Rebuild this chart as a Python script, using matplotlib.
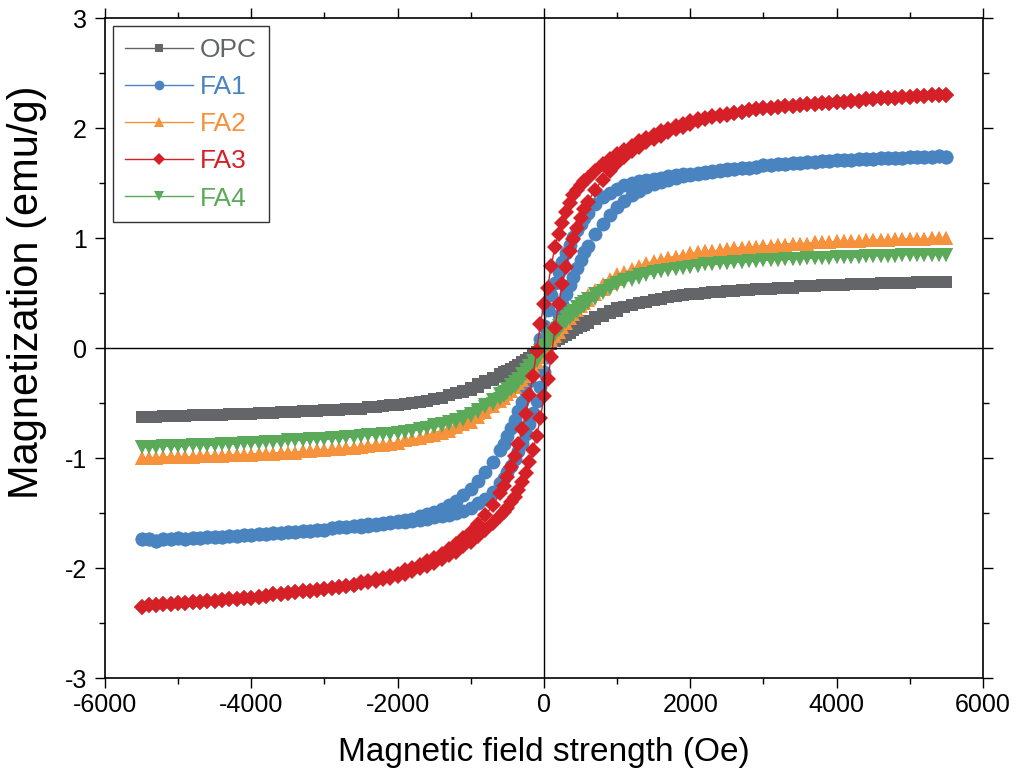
import matplotlib.pyplot as plt
from matplotlib.ticker import MultipleLocator

plt.rcParams['axes.unicode_minus'] = False
plt.rcParams['font.family'] = ['Liberation Sans', 'DejaVu Sans']

# field sweep (Oe): outer tails, central part (finer steps near zero), outer tails
field_neg = [-5500, -5400, -5300, -5200, -5100, -5000, -4900, -4800, -4700, -4600,
             -4500, -4400, -4300, -4200, -4100, -4000, -3900, -3800, -3700, -3600,
             -3500, -3400, -3300, -3200, -3100, -3000, -2900, -2800, -2700, -2600]
field_mid = [-2500, -2400, -2300, -2200, -2100, -2000, -1900, -1800, -1700, -1600,
             -1500, -1400, -1300, -1200, -1100, -1000, -900, -800, -700,
             -600, -550, -500, -450, -400, -350, -300, -250, -200, -150, -100, -50,
             0, 50, 100, 150, 200, 250, 300, 350, 400, 450, 500, 550, 600,
             700, 800, 900, 1000, 1100, 1200, 1300, 1400, 1500, 1600,
             1700, 1800, 1900, 2000, 2100, 2200, 2300, 2400, 2500]
field_pos = [2600, 2700, 2800, 2900, 3000, 3100, 3200, 3300, 3400, 3500,
             3600, 3700, 3800, 3900, 4000, 4100, 4200, 4300, 4400, 4500,
             4600, 4700, 4800, 4900, 5000, 5100, 5200, 5300, 5400, 5500]

# magnetization (emu/g); *_down = branch swept from +H, *_up = branch swept from -H
opc_neg = [-0.63, -0.63, -0.63, -0.62, -0.62, -0.62, -0.62, -0.61, -0.61, -0.61,
           -0.61, -0.61, -0.60, -0.60, -0.60, -0.60, -0.59, -0.59, -0.59, -0.58,
           -0.58, -0.58, -0.57, -0.57, -0.57, -0.56, -0.56, -0.56, -0.55, -0.55]
opc_down = [-0.55, -0.54, -0.54, -0.53, -0.52, -0.52, -0.51, -0.50, -0.49, -0.48,
            -0.46, -0.45, -0.43, -0.41, -0.39, -0.36, -0.33, -0.30, -0.27,
            -0.24, -0.22, -0.21, -0.19, -0.17, -0.15, -0.13, -0.11, -0.09, -0.06, -0.04, -0.01,
            0.01, 0.03, 0.06, 0.08, 0.10, 0.12, 0.14, 0.16, 0.18, 0.20, 0.22, 0.23, 0.25,
            0.28, 0.31, 0.34, 0.36, 0.37, 0.39, 0.41, 0.42, 0.44, 0.45,
            0.46, 0.47, 0.48, 0.49, 0.49, 0.50, 0.51, 0.51, 0.52]
opc_up = [-0.55, -0.54, -0.54, -0.53, -0.52, -0.52, -0.51, -0.50, -0.49, -0.48,
          -0.46, -0.45, -0.43, -0.41, -0.40, -0.38, -0.35, -0.32, -0.29,
          -0.26, -0.24, -0.23, -0.21, -0.19, -0.17, -0.15, -0.13, -0.11, -0.08, -0.06, -0.03,
          -0.01, 0.01, 0.04, 0.06, 0.08, 0.10, 0.12, 0.14, 0.16, 0.18, 0.20, 0.21, 0.23,
          0.26, 0.29, 0.32, 0.34, 0.37, 0.39, 0.41, 0.42, 0.44, 0.45,
          0.46, 0.47, 0.48, 0.49, 0.49, 0.50, 0.51, 0.51, 0.52]
opc_pos = [0.52, 0.53, 0.53, 0.54, 0.54, 0.54, 0.55, 0.55, 0.55, 0.56,
           0.56, 0.56, 0.57, 0.57, 0.57, 0.57, 0.58, 0.58, 0.58, 0.58,
           0.59, 0.59, 0.59, 0.59, 0.59, 0.60, 0.60, 0.60, 0.60, 0.60]

fa1_neg = [-1.74, -1.74, -1.75, -1.74, -1.74, -1.73, -1.74, -1.73, -1.73, -1.72,
           -1.72, -1.72, -1.71, -1.71, -1.70, -1.70, -1.69, -1.69, -1.68, -1.68,
           -1.67, -1.67, -1.66, -1.66, -1.65, -1.65, -1.64, -1.63, -1.63, -1.62]
fa1_down = [-1.61, -1.60, -1.60, -1.59, -1.58, -1.57, -1.56, -1.55, -1.53, -1.51,
            -1.49, -1.46, -1.43, -1.39, -1.34, -1.28, -1.21, -1.13, -1.04,
            -0.93, -0.87, -0.80, -0.73, -0.65, -0.57, -0.49, -0.40, -0.30, -0.19, -0.06, 0.08,
            0.20, 0.35, 0.48, 0.59, 0.69, 0.78, 0.86, 0.94, 1.01, 1.07, 1.13, 1.18, 1.23,
            1.31, 1.37, 1.41, 1.45, 1.48, 1.50, 1.52, 1.53, 1.54, 1.55,
            1.56, 1.57, 1.58, 1.58, 1.59, 1.60, 1.61, 1.62, 1.63]
fa1_up = [-1.63, -1.62, -1.61, -1.60, -1.59, -1.58, -1.58, -1.57, -1.56, -1.55,
          -1.54, -1.53, -1.52, -1.50, -1.48, -1.45, -1.41, -1.37, -1.31,
          -1.23, -1.18, -1.13, -1.07, -1.01, -0.94, -0.86, -0.78, -0.69, -0.59, -0.48, -0.35,
          -0.22, -0.08, 0.06, 0.19, 0.30, 0.40, 0.49, 0.57, 0.65, 0.73, 0.80, 0.87, 0.93,
          1.04, 1.13, 1.21, 1.28, 1.34, 1.39, 1.43, 1.46, 1.49, 1.51,
          1.53, 1.55, 1.56, 1.57, 1.58, 1.59, 1.60, 1.61, 1.62]
fa1_pos = [1.63, 1.64, 1.64, 1.65, 1.66, 1.66, 1.67, 1.67, 1.68, 1.68,
           1.69, 1.69, 1.70, 1.70, 1.71, 1.71, 1.71, 1.72, 1.72, 1.72,
           1.73, 1.73, 1.73, 1.73, 1.74, 1.74, 1.74, 1.74, 1.75, 1.74]

fa2_neg = [-1.00, -1.00, -1.00, -0.99, -0.99, -0.99, -0.99, -0.99, -0.98, -0.98,
           -0.98, -0.98, -0.97, -0.97, -0.97, -0.97, -0.96, -0.96, -0.96, -0.95,
           -0.95, -0.95, -0.94, -0.94, -0.93, -0.93, -0.92, -0.92, -0.91, -0.91]
fa2_down = [-0.90, -0.89, -0.88, -0.88, -0.87, -0.86, -0.84, -0.83, -0.82, -0.80,
            -0.77, -0.75, -0.73, -0.70, -0.67, -0.63, -0.59, -0.54, -0.49,
            -0.44, -0.41, -0.38, -0.35, -0.31, -0.27, -0.23, -0.19, -0.15, -0.11, -0.07, -0.02,
            0.03, 0.08, 0.13, 0.17, 0.21, 0.25, 0.29, 0.32, 0.35, 0.39, 0.42, 0.45, 0.48,
            0.53, 0.58, 0.63, 0.67, 0.69, 0.72, 0.75, 0.77, 0.79, 0.80,
            0.82, 0.83, 0.84, 0.86, 0.87, 0.88, 0.88, 0.89, 0.90]
fa2_up = [-0.90, -0.89, -0.88, -0.88, -0.87, -0.86, -0.84, -0.83, -0.82, -0.80,
          -0.79, -0.77, -0.75, -0.72, -0.69, -0.67, -0.63, -0.58, -0.53,
          -0.48, -0.45, -0.42, -0.39, -0.35, -0.32, -0.29, -0.25, -0.21, -0.17, -0.13, -0.08,
          -0.03, 0.02, 0.07, 0.11, 0.15, 0.19, 0.23, 0.27, 0.31, 0.35, 0.38, 0.41, 0.44,
          0.49, 0.54, 0.59, 0.63, 0.67, 0.70, 0.73, 0.75, 0.77, 0.80,
          0.82, 0.83, 0.84, 0.86, 0.87, 0.88, 0.88, 0.89, 0.90]
fa2_pos = [0.91, 0.91, 0.92, 0.92, 0.93, 0.93, 0.94, 0.94, 0.95, 0.95,
           0.95, 0.96, 0.96, 0.96, 0.97, 0.97, 0.97, 0.97, 0.98, 0.98,
           0.98, 0.98, 0.99, 0.99, 0.99, 0.99, 0.99, 1.00, 1.00, 1.00]

fa3_neg = [-2.35, -2.34, -2.34, -2.33, -2.33, -2.32, -2.32, -2.31, -2.31, -2.30,
           -2.30, -2.29, -2.28, -2.28, -2.27, -2.27, -2.26, -2.25, -2.24, -2.24,
           -2.23, -2.22, -2.21, -2.21, -2.20, -2.19, -2.18, -2.17, -2.16, -2.15]
fa3_down = [-2.13, -2.12, -2.10, -2.09, -2.07, -2.05, -2.02, -2.00, -1.97, -1.94,
            -1.91, -1.87, -1.83, -1.78, -1.73, -1.67, -1.60, -1.52, -1.43,
            -1.32, -1.25, -1.17, -1.08, -0.98, -0.87, -0.74, -0.60, -0.43, -0.25, -0.03, 0.22,
            0.40, 0.55, 0.75, 0.92, 1.04, 1.14, 1.24, 1.32, 1.39, 1.44, 1.48, 1.52, 1.55,
            1.61, 1.67, 1.72, 1.76, 1.80, 1.84, 1.88, 1.91, 1.94, 1.97,
            1.99, 2.02, 2.04, 2.06, 2.08, 2.09, 2.11, 2.12, 2.13]
fa3_up = [-2.14, -2.13, -2.12, -2.10, -2.09, -2.07, -2.05, -2.03, -2.00, -1.98,
          -1.95, -1.92, -1.88, -1.85, -1.80, -1.76, -1.71, -1.65, -1.59,
          -1.53, -1.49, -1.45, -1.40, -1.35, -1.29, -1.22, -1.14, -1.04, -0.93, -0.80, -0.64,
          -0.44, -0.28, -0.08, 0.18, 0.40, 0.58, 0.74, 0.88, 0.99, 1.09, 1.18, 1.26, 1.33,
          1.44, 1.53, 1.61, 1.68, 1.74, 1.79, 1.83, 1.87, 1.90, 1.93,
          1.96, 1.99, 2.01, 2.04, 2.06, 2.08, 2.10, 2.11, 2.12]
fa3_pos = [2.14, 2.15, 2.16, 2.17, 2.18, 2.18, 2.19, 2.20, 2.20, 2.21,
           2.22, 2.22, 2.23, 2.23, 2.24, 2.24, 2.25, 2.25, 2.26, 2.26,
           2.27, 2.27, 2.27, 2.28, 2.28, 2.29, 2.29, 2.30, 2.30, 2.30]

fa4_neg = [-0.90, -0.90, -0.90, -0.89, -0.89, -0.89, -0.89, -0.88, -0.88, -0.88,
           -0.88, -0.87, -0.87, -0.87, -0.86, -0.86, -0.86, -0.85, -0.85, -0.85,
           -0.84, -0.84, -0.84, -0.83, -0.83, -0.83, -0.82, -0.82, -0.81, -0.81]
fa4_down = [-0.80, -0.79, -0.79, -0.78, -0.78, -0.77, -0.76, -0.75, -0.74, -0.73,
            -0.70, -0.69, -0.67, -0.65, -0.63, -0.60, -0.56, -0.52, -0.47,
            -0.42, -0.40, -0.37, -0.34, -0.31, -0.28, -0.24, -0.20, -0.16, -0.12, -0.08, -0.03,
            0.02, 0.07, 0.12, 0.16, 0.20, 0.24, 0.28, 0.31, 0.34, 0.37, 0.40, 0.42, 0.45,
            0.49, 0.52, 0.56, 0.59, 0.62, 0.64, 0.66, 0.67, 0.69, 0.70,
            0.71, 0.72, 0.73, 0.74, 0.75, 0.76, 0.76, 0.77, 0.77]
fa4_up = [-0.80, -0.79, -0.79, -0.78, -0.78, -0.77, -0.76, -0.75, -0.74, -0.73,
          -0.72, -0.71, -0.69, -0.67, -0.65, -0.62, -0.58, -0.54, -0.51,
          -0.46, -0.44, -0.41, -0.38, -0.35, -0.32, -0.28, -0.24, -0.20, -0.16, -0.12, -0.07,
          -0.02, 0.03, 0.08, 0.12, 0.16, 0.20, 0.24, 0.27, 0.30, 0.33, 0.36, 0.38, 0.41,
          0.45, 0.50, 0.54, 0.57, 0.60, 0.62, 0.64, 0.66, 0.68, 0.70,
          0.71, 0.72, 0.73, 0.74, 0.75, 0.76, 0.76, 0.77, 0.77]
fa4_pos = [0.78, 0.78, 0.79, 0.79, 0.80, 0.80, 0.80, 0.81, 0.81, 0.81,
           0.82, 0.82, 0.82, 0.82, 0.83, 0.83, 0.83, 0.83, 0.84, 0.84,
           0.84, 0.84, 0.84, 0.85, 0.85, 0.85, 0.85, 0.85, 0.85, 0.85]

names = ['OPC', 'FA1', 'FA2', 'FA3', 'FA4']
colors = ['#646569', '#4a84c0', '#f6913c', '#d62028', '#5aaa5a']
markers = ['s', 'o', '^', 'D', 'v']
sizes = [8, 10, 10, 8.5, 10]
zorders = [2, 3, 4, 6, 5]

series = [(opc_neg, opc_down, opc_up, opc_pos),
          (fa1_neg, fa1_down, fa1_up, fa1_pos),
          (fa2_neg, fa2_down, fa2_up, fa2_pos),
          (fa3_neg, fa3_down, fa3_up, fa3_pos),
          (fa4_neg, fa4_down, fa4_up, fa4_pos)]

field = field_neg + field_mid + field_pos

fig = plt.figure(figsize=(10.16, 7.71), dpi=100)
ax = fig.add_axes([0.1033, 0.1206, 0.8642, 0.856])

for i, (neg, down, up, pos) in enumerate(series):
    m_down = neg + down + pos
    m_up = neg + up + pos
    x = field[::-1] + field
    y = m_down[::-1] + m_up
    ax.plot(x, y, color=colors[i], marker=markers[i], markersize=sizes[i],
            markeredgewidth=0, linewidth=1, label=names[i], zorder=zorders[i])

ax.axhline(0, color='black', linewidth=1, zorder=10)
ax.axvline(0, color='black', linewidth=1, zorder=10)

ax.set_xlim(-6000, 6000)
ax.set_ylim(-3, 3)
ax.xaxis.set_major_locator(MultipleLocator(2000))
ax.xaxis.set_minor_locator(MultipleLocator(1000))
ax.yaxis.set_major_locator(MultipleLocator(1))
ax.yaxis.set_minor_locator(MultipleLocator(0.5))
ax.tick_params(which='both', direction='out', top=True, right=True, width=1)
ax.tick_params(which='major', length=7)
ax.tick_params(which='minor', length=4)
ax.tick_params(axis='x', pad=4, labelsize=18)
ax.tick_params(axis='y', pad=6, labelsize=18)
for s in ax.spines.values():
    s.set_linewidth(1.2)

ax.set_xlabel('Magnetic field strength (Oe)', fontsize=24, labelpad=14)
ax.set_ylabel('Magnetization (emu/g)', fontsize=30)
ax.yaxis.set_label_coords(-0.066, 0.585)

leg = ax.legend(loc='upper left', fontsize=19, frameon=True, fancybox=False,
                edgecolor='black', borderaxespad=0.3, handlelength=2.6,
                handletextpad=0.25, labelspacing=0.5, borderpad=0.45,
                markerscale=0.7)
leg.get_frame().set_linewidth(1)
for txt, c in zip(leg.get_texts(), colors):
    txt.set_color(c)

fig.savefig('out.png', dpi=100)
